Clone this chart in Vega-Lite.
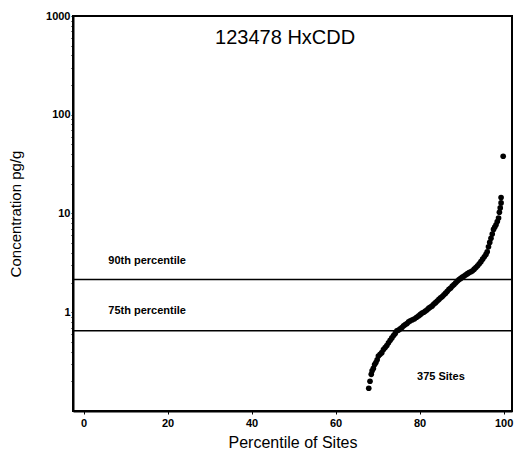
{
  "$schema": "https://vega.github.io/schema/vega-lite/v6.json",
  "width": 439,
  "height": 395,
  "autosize": "none",
  "padding": {"left": 73, "top": 16, "right": 2, "bottom": 45},
  "background": "white",
  "config": {
    "view": {"stroke": "black", "strokeWidth": 2},
    "font": "Liberation Sans"
  },
  "datasets": {
    "sites": [
      {"pct": 67.9, "conc": 0.17}, {"pct": 68.2, "conc": 0.2}, {"pct": 68.5, "conc": 0.235}, {"pct": 68.7, "conc": 0.255},
      {"pct": 69.0, "conc": 0.27}, {"pct": 69.3, "conc": 0.295}, {"pct": 69.6, "conc": 0.31}, {"pct": 69.9, "conc": 0.33},
      {"pct": 70.2, "conc": 0.36}, {"pct": 70.6, "conc": 0.375}, {"pct": 71.0, "conc": 0.39}, {"pct": 71.4, "conc": 0.42},
      {"pct": 71.8, "conc": 0.44}, {"pct": 72.2, "conc": 0.46}, {"pct": 72.6, "conc": 0.49}, {"pct": 73.0, "conc": 0.52},
      {"pct": 73.4, "conc": 0.55}, {"pct": 73.8, "conc": 0.58}, {"pct": 74.2, "conc": 0.61}, {"pct": 74.6, "conc": 0.65},
      {"pct": 75.0, "conc": 0.66}, {"pct": 75.4, "conc": 0.68}, {"pct": 75.8, "conc": 0.7}, {"pct": 76.2, "conc": 0.73},
      {"pct": 76.6, "conc": 0.75}, {"pct": 77.0, "conc": 0.77}, {"pct": 77.4, "conc": 0.8}, {"pct": 77.8, "conc": 0.82},
      {"pct": 78.3, "conc": 0.84}, {"pct": 78.8, "conc": 0.86}, {"pct": 79.3, "conc": 0.89}, {"pct": 79.8, "conc": 0.92},
      {"pct": 80.2, "conc": 0.95}, {"pct": 80.6, "conc": 0.98}, {"pct": 81.0, "conc": 1.0}, {"pct": 81.4, "conc": 1.03},
      {"pct": 81.8, "conc": 1.06}, {"pct": 82.2, "conc": 1.1}, {"pct": 82.6, "conc": 1.13}, {"pct": 83.0, "conc": 1.16},
      {"pct": 83.4, "conc": 1.21}, {"pct": 83.8, "conc": 1.25}, {"pct": 84.2, "conc": 1.3}, {"pct": 84.6, "conc": 1.35},
      {"pct": 85.0, "conc": 1.4}, {"pct": 85.4, "conc": 1.44}, {"pct": 85.8, "conc": 1.5}, {"pct": 86.2, "conc": 1.56},
      {"pct": 86.6, "conc": 1.63}, {"pct": 87.0, "conc": 1.71}, {"pct": 87.4, "conc": 1.76}, {"pct": 87.8, "conc": 1.84},
      {"pct": 88.2, "conc": 1.91}, {"pct": 88.6, "conc": 1.99}, {"pct": 89.0, "conc": 2.07}, {"pct": 89.4, "conc": 2.14},
      {"pct": 89.8, "conc": 2.2}, {"pct": 90.2, "conc": 2.27}, {"pct": 90.6, "conc": 2.33}, {"pct": 91.0, "conc": 2.4},
      {"pct": 91.4, "conc": 2.46}, {"pct": 91.8, "conc": 2.52}, {"pct": 92.2, "conc": 2.57}, {"pct": 92.6, "conc": 2.63},
      {"pct": 93.0, "conc": 2.73}, {"pct": 93.4, "conc": 2.84}, {"pct": 93.8, "conc": 2.96}, {"pct": 94.2, "conc": 3.1},
      {"pct": 94.6, "conc": 3.25}, {"pct": 95.0, "conc": 3.45}, {"pct": 95.4, "conc": 3.65}, {"pct": 95.8, "conc": 3.85},
      {"pct": 96.1, "conc": 4.1}, {"pct": 96.4, "conc": 4.6}, {"pct": 96.7, "conc": 5.1}, {"pct": 97.0, "conc": 5.6},
      {"pct": 97.3, "conc": 6.2}, {"pct": 97.6, "conc": 6.9}, {"pct": 97.9, "conc": 7.3}, {"pct": 98.2, "conc": 7.7},
      {"pct": 98.5, "conc": 8.3}, {"pct": 98.8, "conc": 9.0}, {"pct": 99.0, "conc": 10.3}, {"pct": 99.2, "conc": 11.4},
      {"pct": 99.4, "conc": 12.8}, {"pct": 99.4, "conc": 14.5}, {"pct": 99.9, "conc": 38}
    ],
    "refs": [
      {"label": "90th percentile", "conc": 2.15, "lx": 5.9, "ly": 3.3},
      {"label": "75th percentile", "conc": 0.65, "lx": 5.9, "ly": 1.02}
    ],
    "notes": [
      {"label": "123478 HxCDD", "nx": 48, "ny": 600, "kind": "title"},
      {"label": "375 Sites", "nx": 79.4, "ny": 0.22, "kind": "count"}
    ]
  },
  "layer": [
    {
      "data": {"name": "refs"},
      "mark": {"type": "rule", "color": "black", "strokeWidth": 1.5},
      "encoding": {
        "y": {"field": "conc", "type": "quantitative", "scale": {"type": "log", "domain": [0.1, 1000], "nice": false}}
      }
    },
    {
      "data": {"name": "refs"},
      "mark": {"type": "text", "align": "left", "baseline": "middle", "fontSize": 11, "fontWeight": "bold", "color": "black"},
      "encoding": {
        "x": {"field": "lx", "type": "quantitative"},
        "y": {"field": "ly", "type": "quantitative"},
        "text": {"field": "label"}
      }
    },
    {
      "data": {"name": "sites"},
      "mark": {"type": "point", "shape": "circle", "filled": true, "color": "black", "size": 32, "opacity": 1},
      "encoding": {
        "x": {
          "field": "pct", "type": "quantitative",
          "scale": {"domain": [-2.5, 102], "nice": false, "zero": false},
          "axis": {
            "title": "Percentile of Sites", "titleFontSize": 16, "titleFontWeight": "normal", "titleColor": "black", "titlePadding": 6,
            "values": [0, 20, 40, 60, 80, 100], "labelFontSize": 11, "labelFontWeight": "bold", "labelColor": "black",
            "domainColor": "black", "domainWidth": 2, "tickColor": "black", "tickSize": 3, "labelPadding": 3, "grid": false
          }
        },
        "y": {
          "field": "conc", "type": "quantitative",
          "scale": {"type": "log", "domain": [0.1, 1000], "nice": false},
          "axis": {
            "title": "Concentration pg/g", "titleFontSize": 15, "titleFontWeight": "normal", "titleColor": "black", "titlePadding": 22,
            "values": [0.2, 0.3, 0.4, 0.5, 0.6, 0.7, 0.8, 0.9, 1, 2, 3, 4, 5, 6, 7, 8, 9, 10, 20, 30, 40, 50, 60, 70, 80, 90, 100, 200, 300, 400, 500, 600, 700, 800, 900, 1000],
            "labelExpr": "indexof([1,10,100,1000], datum.value) >= 0 ? format(datum.value, 'd') : ''",
            "labelFontSize": 11, "labelFontWeight": "bold", "labelColor": "black", "labelPadding": 1,
            "domainColor": "black", "domainWidth": 2, "tickColor": "black", "tickSize": 2, "grid": false
          }
        }
      }
    },
    {
      "data": {"name": "notes"},
      "transform": [{"filter": "datum.kind == 'title'"}],
      "mark": {"type": "text", "align": "center", "baseline": "middle", "fontSize": 20, "color": "black"},
      "encoding": {
        "x": {"field": "nx", "type": "quantitative"},
        "y": {"field": "ny", "type": "quantitative"},
        "text": {"field": "label"}
      }
    },
    {
      "data": {"name": "notes"},
      "transform": [{"filter": "datum.kind == 'count'"}],
      "mark": {"type": "text", "align": "left", "baseline": "middle", "fontSize": 11, "fontWeight": "bold", "color": "black"},
      "encoding": {
        "x": {"field": "nx", "type": "quantitative"},
        "y": {"field": "ny", "type": "quantitative"},
        "text": {"field": "label"}
      }
    }
  ]
}
